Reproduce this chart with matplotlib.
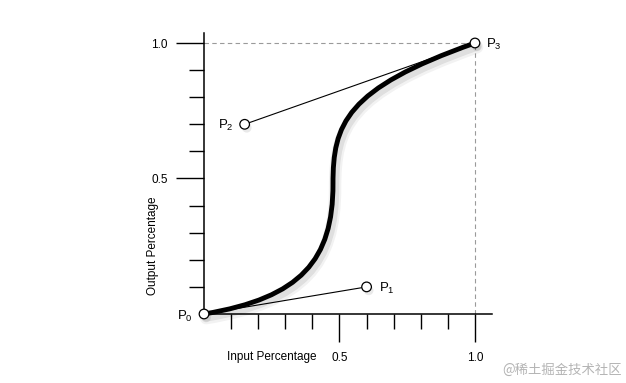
import matplotlib
matplotlib.use("Agg")
import matplotlib.pyplot as plt
import matplotlib.patheffects as pe
from matplotlib.path import Path
from matplotlib.patches import PathPatch
from matplotlib.ticker import FixedLocator

plt.rcParams['font.family'] = ['Liberation Sans', 'DejaVu Sans']
plt.rcParams['mathtext.fontset'] = 'custom'
plt.rcParams['mathtext.rm'] = 'Liberation Sans'
plt.rcParams['mathtext.it'] = 'Liberation Sans'
plt.rcParams['mathtext.default'] = 'regular'

# labelled control points
point_names = ["P", "P", "P", "P"]
point_subs = ["0", "1", "2", "3"]
point_x = [0.0, 0.6, 0.15, 1.0]
point_y = [0.0, 0.1, 0.7, 1.0]

# the drawn curve (two bezier pieces)
curve_x = [0.0, 0.36, 0.476, 0.476, 0.476, 0.52, 1.0]
curve_y = [0.0, 0.06, 0.2, 0.48, 0.70, 0.831, 1.0]

major_ticks = [0.5, 1.0]
major_labels = ["0.5", "1.0"]
minor_ticks = [0.1, 0.2, 0.3, 0.4, 0.6, 0.7, 0.8, 0.9]

fig = plt.figure(figsize=(6.26, 3.83), dpi=100)
ax = fig.add_axes([0.3259, 0.1802, 0.4601, 0.7337])
ax.set_xlim(0, 1.063)
ax.set_ylim(0, 1.037)

for s in ["top", "right"]:
    ax.spines[s].set_visible(False)
for s in ["left", "bottom"]:
    ax.spines[s].set_linewidth(1.1)

ax.xaxis.set_major_locator(FixedLocator(major_ticks))
ax.yaxis.set_major_locator(FixedLocator(major_ticks))
ax.xaxis.set_minor_locator(FixedLocator(minor_ticks))
ax.yaxis.set_minor_locator(FixedLocator(minor_ticks))
ax.set_xticklabels(major_labels)
ax.set_yticklabels(major_labels)
ax.tick_params(which="major", direction="out", length=20, width=1.0,
               labelsize=8.5, pad=6)
ax.tick_params(axis="x", which="major", pad=7.5)
ax.tick_params(which="minor", direction="out", length=10.5, width=1.0)

ax.set_xlabel("Input Percentage", fontsize=8.5)
ax.xaxis.set_label_coords(0.25 / 1.063, -0.13)
ax.set_ylabel("Output Percentage", fontsize=8.5)
ax.yaxis.set_label_coords(-0.155, 0.25 / 1.037)

# dashed guides to (1, 1)
ax.plot([0, point_x[3]], [point_y[3], point_y[3]], ls=(0, (4, 3)),
        color="#9a9a9a", lw=0.8, zorder=1)
ax.plot([point_x[3], point_x[3]], [0, point_y[3]], ls=(0, (4, 3)),
        color="#9a9a9a", lw=0.8, zorder=1)

# handles
ax.plot([point_x[0], point_x[1]], [point_y[0], point_y[1]], color="k",
        lw=0.8, zorder=2)
ax.plot([point_x[3], point_x[2]], [point_y[3], point_y[2]], color="k",
        lw=0.8, zorder=2)

shadow = [pe.SimpleLineShadow(offset=(1.5, -3), shadow_color="k", alpha=0.05,
                              linewidth=9),
          pe.SimpleLineShadow(offset=(1.5, -2.5), shadow_color="k", alpha=0.08,
                              linewidth=6),
          pe.Normal()]

codes = [Path.MOVETO] + [Path.CURVE4] * 6
curve = PathPatch(Path(list(zip(curve_x, curve_y)), codes), facecolor="none",
                  edgecolor="k", lw=3.5, capstyle="round", zorder=3,
                  clip_on=False, path_effects=shadow)
ax.add_patch(curve)

ax.scatter(point_x, point_y, s=48, facecolor="white", edgecolor="k",
           linewidth=0.9, zorder=5, clip_on=False,
           path_effects=[pe.SimplePatchShadow(offset=(1.5, -2.5),
                                               alpha=0.12), pe.Normal()])

offsets = [(-8, -2, "right"), (9, -1, "left"), (-8, -1, "right"), (8, -1, "left")]
for name, sub, x, y, (dx, dy, ha) in zip(point_names, point_subs, point_x,
                                         point_y, offsets):
    ax.annotate(name + "$_{" + sub + "}$", (x, y), xytext=(dx, dy),
                textcoords="offset points", ha=ha, va="center",
                fontsize=9.5, zorder=6, annotation_clip=False)

fig.text(0.994, 0.035, "@稀土掘金技术社区", ha="right", va="center",
         fontsize=9.6, color="#b4b4b4",
         family=["Noto Sans CJK SC", "DejaVu Sans"])

fig.savefig("out.png", dpi=100)
